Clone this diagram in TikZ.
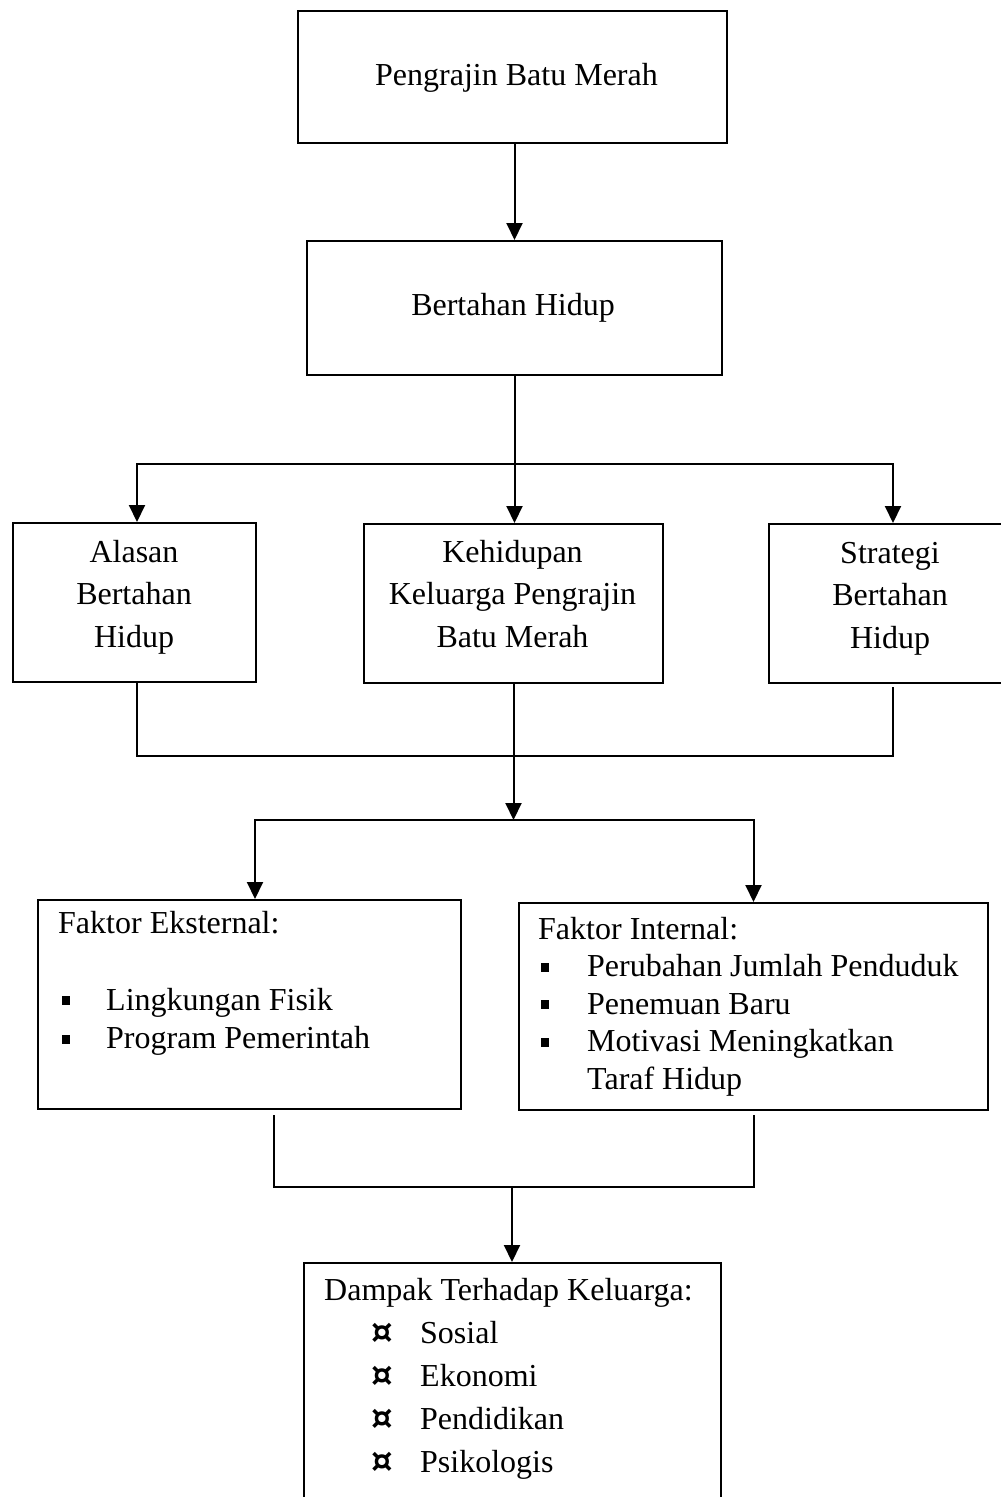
\documentclass[tikz,border=0pt]{standalone}
\usepackage{fontspec}
\setmainfont{Liberation Serif}
\newfontfamily\symf{DejaVu Sans}
\usetikzlibrary{arrows.meta}
\newcommand{\sqbE}{\hspace{4pt}\makebox[44pt][l]{\rule[5pt]{8pt}{9pt}}}
\newcommand{\sqbI}{\hspace{3pt}\makebox[46pt][l]{\rule[5pt]{8pt}{9pt}}}
\newcommand{\curb}{\hspace{47pt}\makebox[49pt][l]{\raisebox{0pt}{\symf\bfseries\fontsize{34}{34}\selectfont ¤}}}
\begin{document}
\begin{tikzpicture}[x=1pt,y=-1pt,
  box/.style={draw, line width=2pt, inner sep=0pt, anchor=north west},
  conn/.style={line width=2pt},
  arr/.style={line width=2pt, -{Triangle[width=16pt,length=17pt]}},
  txt/.style={font=\fontsize{32}{42.5}\selectfont, inner sep=0pt}]
\useasboundingbox (0,0) rectangle (1001,1497);
\clip (0,0) rectangle (1001,1497);
% boxes
\node[box, minimum width=429pt, minimum height=132pt] (b1) at (297,10) {};
\node[box, minimum width=415pt, minimum height=134pt] (b2) at (306,240) {};
\node[box, minimum width=243pt, minimum height=159pt] (alasan) at (12,522) {};
\node[box, minimum width=299pt, minimum height=159pt] (keh) at (363,523) {};
\node[box, minimum width=248pt, minimum height=159pt] (strat) at (768,523) {};
\node[box, minimum width=423pt, minimum height=209pt] (eks) at (37,899) {};
\node[box, minimum width=469pt, minimum height=207pt] (int) at (518,902) {};
\node[box, minimum width=417pt, minimum height=280pt] (dampak) at (303,1262) {};
% texts
\node[txt, anchor=base west] (t1) at (375,85) {Pengrajin Batu Merah};
\node[txt, anchor=base] (t2) at (513,315) {Bertahan Hidup};
\node[txt, anchor=base] (t3) at (134,562) {\begin{tabular}[t]{@{}c@{}}Alasan\\Bertahan\\Hidup\end{tabular}};
\node[txt, anchor=base] (t4) at (512.5,562) {\begin{tabular}[t]{@{}c@{}}Kehidupan\\Keluarga Pengrajin\\Batu Merah\end{tabular}};
\node[txt, anchor=base] (t5) at (890,563) {\begin{tabular}[t]{@{}c@{}}Strategi\\Bertahan\\Hidup\end{tabular}};
\node[txt, anchor=base west, font=\fontsize{32}{38.5}\selectfont] (t6) at (58,933) {\begin{tabular}[t]{@{}l@{}}Faktor Eksternal:\\ \\ \sqbE Lingkungan Fisik\\ \sqbE Program Pemerintah\end{tabular}};
\node[txt, anchor=base west, font=\fontsize{32}{37.5}\selectfont] (t7) at (538,939) {\begin{tabular}[t]{@{}l@{}}Faktor Internal:\\ \sqbI Perubahan Jumlah Penduduk\\ \sqbI Penemuan Baru\\ \sqbI Motivasi Meningkatkan\\ \hspace{49pt}Taraf Hidup\end{tabular}};
\node[txt, anchor=base west, font=\fontsize{32}{43}\selectfont] (t8) at (324,1300) {\begin{tabular}[t]{@{}l@{}}Dampak Terhadap Keluarga:\\ \curb Sosial\\ \curb Ekonomi\\ \curb Pendidikan\\ \curb Psikologis\end{tabular}};
% connectors
\draw[arr] (b2.north |- b1.south) -- (b2.north);
\draw[arr] (b2.south) -- (b2.south |- keh.north);
\coordinate (split1) at (513,464);
\draw[arr] (split1) -| ([xshift=2.5pt]alasan.north);
\draw[arr] (split1) -| (strat.north);
\coordinate (join1) at (513,756);
\draw[conn] ([xshift=2.5pt]alasan.south) |- (join1) -| ([yshift=-3pt]strat.south);
\coordinate (split2) at (513,820);
\draw[arr] (keh.south) -- (keh.south |- split2);
\draw[arr] (split2) -| ([xshift=5.5pt]eks.north);
\draw[arr] (split2) -| (int.north);
\coordinate (join2) at (512,1187);
\draw[conn] ([xshift=24.5pt,yshift=-5pt]eks.south) |- (join2) -| ([yshift=-4pt]int.south);
\draw[arr] (join2) -- (join2 |- dampak.north);
\end{tikzpicture}
\end{document}
